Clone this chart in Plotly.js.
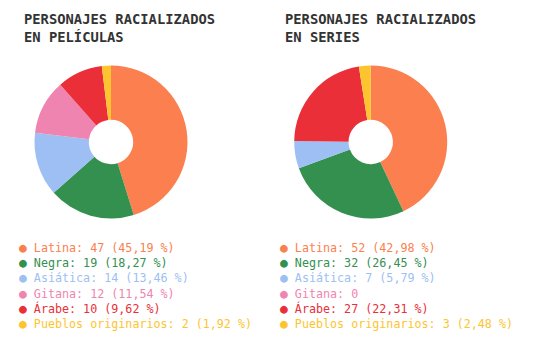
<!DOCTYPE html>
<html><head><meta charset="utf-8">
<script src="https://cdn.plot.ly/plotly-3.0.1.min.js"></script>
<style>html,body{margin:0;padding:0;background:#fff}#c{width:538px;height:354px}</style>
</head><body><div id="c"></div>
<script>
const categories = ["Latina", "Negra", "Asiática", "Gitana", "Árabe", "Pueblos originarios"];
const peliculas = [47, 19, 14, 12, 10, 2];
const series = [52, 32, 7, 0, 27, 3];
const colors = ["#fb7f4f", "#33904f", "#9dbff3", "#f084b0", "#ea2f39", "#fcc530"];
const titles = ["PERSONAJES RACIALIZADOS<br>EN PELÍCULAS", "PERSONAJES RACIALIZADOS<br>EN SERIES"];

const mono = "DejaVu Sans Mono, Liberation Mono, monospace";
function pie(vals, dx) {
  return {type: "pie", values: vals, labels: categories, sort: false, direction: "clockwise",
    rotation: 0, hole: 0.29, textinfo: "none", hoverinfo: "none", showlegend: false,
    marker: {colors: colors, line: {width: 0}}, domain: dx};
}
const yd = [0.3828, 0.815];
const data = [
  pie(peliculas, {x: [0.0641, 0.3485], y: yd}),
  pie(series, {x: [0.5465, 0.8316], y: yd})
];
const annotations = [];
[peliculas, series].forEach((vals, k) => {
  const total = vals.reduce((a, b) => a + b, 0);
  const x0 = k === 0 ? 17 : 278;
  annotations.push({xref: "paper", yref: "paper", x: (k === 0 ? 22 : 283) / 538, y: 1 - 9 / 354,
    xanchor: "left", yanchor: "top", align: "left", showarrow: false, text: "<b>" + titles[k] + "</b>",
    font: {family: mono, size: 13.8, color: "#333"}});
  const lines = vals.map((v, i) => {
    const pct = v > 0 ? " (" + (v / total * 100).toFixed(2).replace(".", ",") + " %)" : "";
    return '<span style="color:' + colors[i] + '"><span style="font-size:13px">●</span>\u00a0' +
      categories[i] + ": " + v + pct + "</span>";
  });
  annotations.push({xref: "paper", yref: "paper", x: x0 / 538, y: 1 - 238 / 354,
    xanchor: "left", yanchor: "top", align: "left", showarrow: false,
    text: lines.join("<br>"), font: {family: mono, size: 11.7, color: "#333"}});
});
const layout = {width: 538, height: 354, margin: {l: 0, r: 0, t: 0, b: 0},
  paper_bgcolor: "#fff", plot_bgcolor: "#fff", annotations: annotations, showlegend: false};
Plotly.newPlot("c", data, layout, {displayModeBar: false, staticPlot: true});
</script></body></html>
